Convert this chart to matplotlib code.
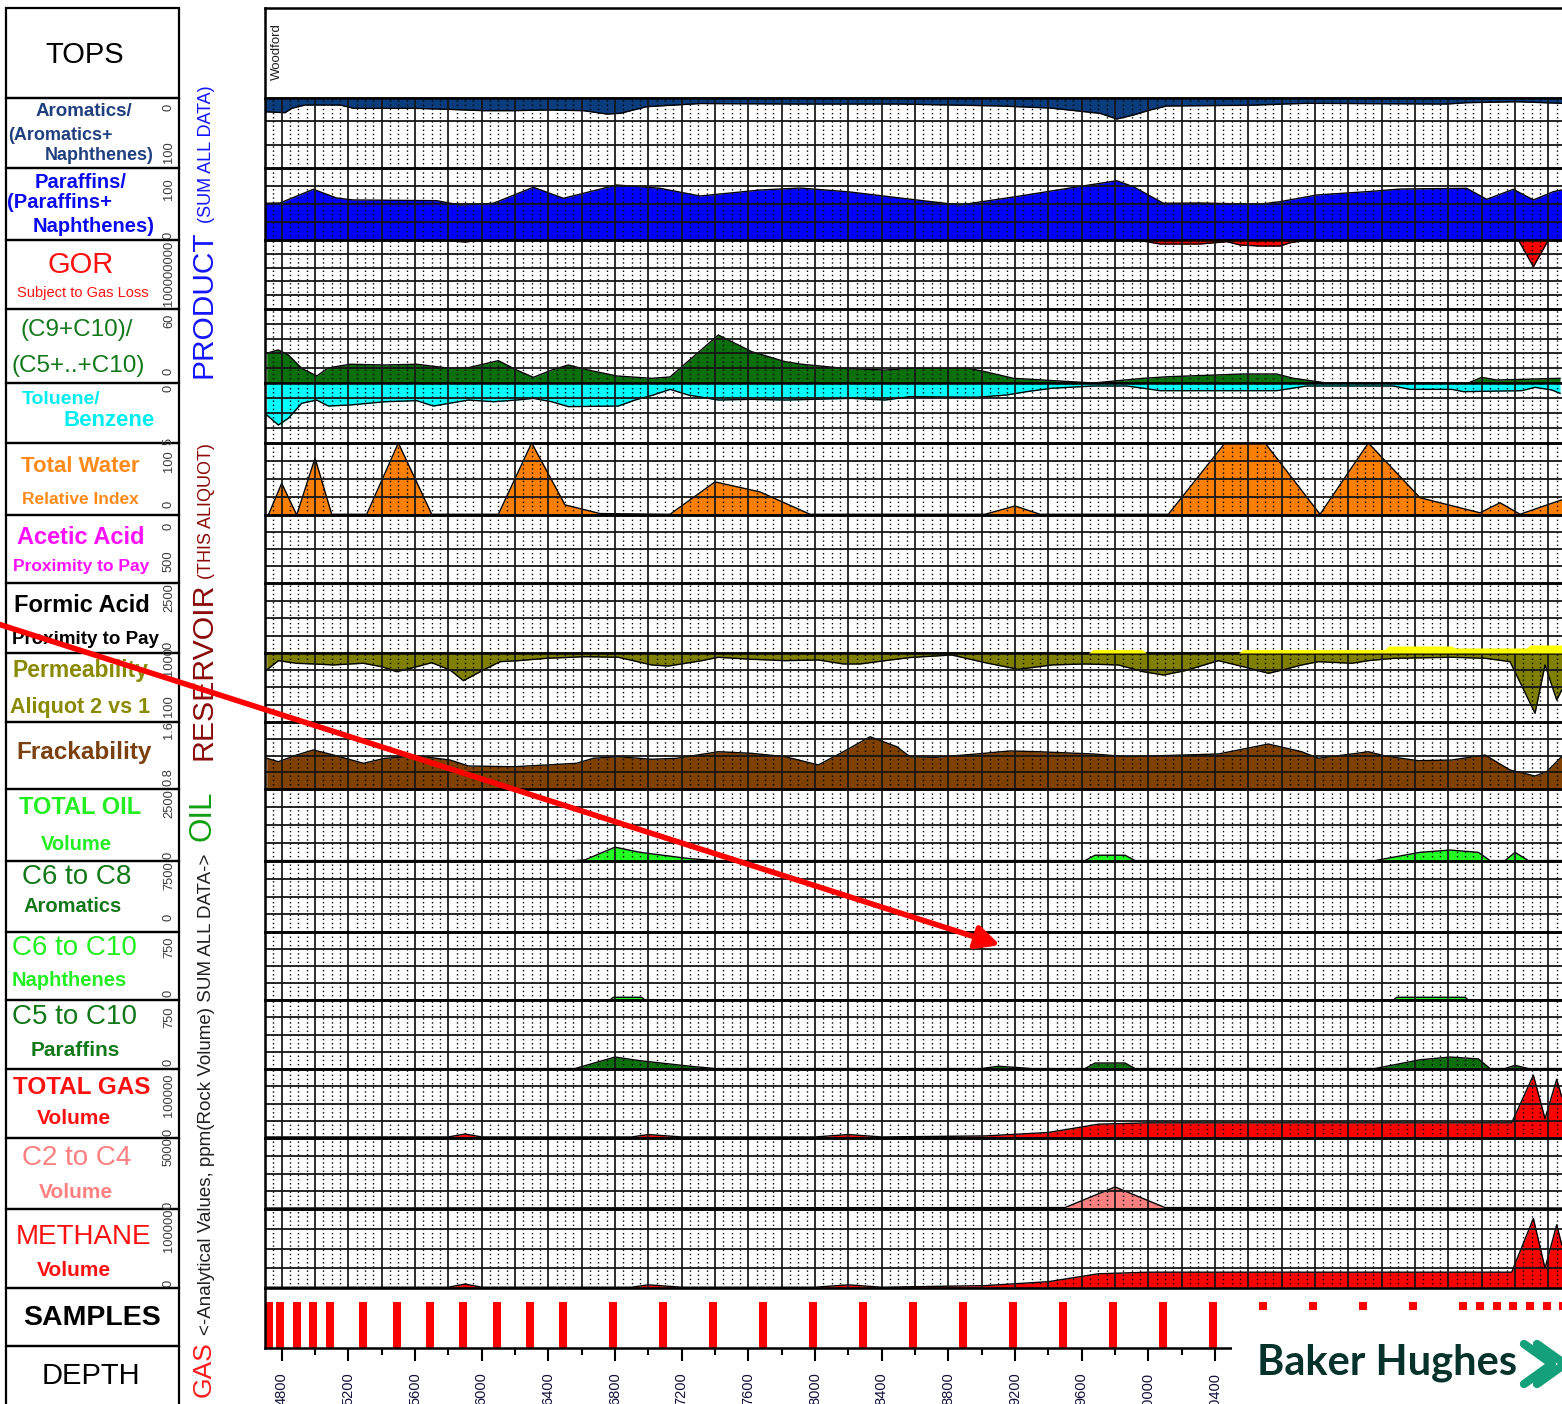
import matplotlib
matplotlib.use('Agg')
import matplotlib.pyplot as plt
from matplotlib.patches import Rectangle
import numpy as np

plt.rcParams['font.family'] = ['Liberation Sans', 'DejaVu Sans']

# ---------------- data (depth in ft, values in track units) ----------------
sample_depth = [4725, 4790, 4890, 4990, 5090, 5290, 5490, 5690, 5890, 6090, 6290, 6490,
                6790, 7090, 7390, 7690, 7990, 8290, 8590, 8890, 9190, 9490, 9790, 10090,
                10390, 10690, 10990, 11290, 11590, 11890, 11990, 12090, 12190, 12290, 12390, 12490]

aro_depth = [4700, 4820, 4860, 4940, 5150, 5230, 5590, 5790, 6010, 6190, 6390, 6610, 6750, 6830,
             6990, 7310, 7910, 8510, 9110, 9410, 9710, 9810, 9910, 10010, 10110, 10610, 10810,
             10950, 11790, 11910, 12210, 12480]
aro_val = [19.6, 21.0, 14.7, 10.0, 10.0, 14.7, 14.7, 16.1, 18.1, 18.1, 17.1, 18.1, 22.9, 21.9,
           12.4, 7.9, 8.6, 8.6, 11.4, 14.3, 21.9, 30.0, 24.3, 17.1, 11.4, 10.4, 8.6,
           7.6, 8.6, 6.7, 5.3, 7.6]

par_depth = [4700, 4790, 4990, 5130, 5230, 5730, 5870, 6070, 6310, 6490, 6810, 7070, 7310, 7670,
             7910, 8210, 8510, 8870, 9230, 9530, 9710, 9810, 9910, 10090, 10310, 10670, 10790,
             11010, 11310, 11510, 11910, 12030, 12190, 12310, 12430, 12480]
par_val = [51.0, 51.4, 70.4, 58.3, 55.6, 54.6, 48.6, 51.0, 73.2, 57.9, 76.4, 71.8, 61.1, 69.4,
           72.2, 66.7, 58.3, 48.6, 61.1, 72.2, 78.7, 82.3, 74.0, 51.0, 51.4, 49.6, 53.2,
           62.5, 67.1, 70.8, 71.8, 56.5, 70.4, 55.6, 67.1, 69.4]

gor_depth = [4700, 5750, 5900, 6000, 9930, 10070, 10310, 10470, 10550, 10670, 10790, 10850,
             10950, 12220, 12310, 12400, 12480]
gor_val = [0, 0, 2.9e6, 0, 0, 5.8e6, 5.8e6, 2.4e6, 7.2e6, 8.7e6, 8.7e6, 4.0e6,
           0, 0, 38.7e6, 0, 0]

c9_depth = [4710, 4780, 4840, 4920, 5010, 5080, 5210, 5420, 5610, 5810, 5920, 6100, 6210, 6310,
            6420, 6520, 6640, 6810, 7020, 7130, 7420, 7620, 7820, 7920, 8170, 8420, 8570, 8920,
            9020, 9190, 9370, 9670, 9970, 10120, 10570, 10770, 10870, 11070, 11920, 12000,
            12090, 12470]
c9_val = [24.1, 26.8, 22.7, 11.9, 5.7, 12.2, 15.2, 14.6, 15.2, 11.9, 12.4, 18.1, 10.5, 4.6,
          10.5, 14.6, 10.5, 5.7, 3.8, 4.9, 38.9, 25.4, 17.3, 15.2, 11.9, 10.5, 11.9, 11.9,
          9.2, 3.8, 2.4, 0.0, 3.8, 5.1, 7.3, 7.3, 3.8, 0.0, 0.0, 4.6,
          2.4, 3.8]

tol_depth = [4710, 4780, 4840, 4920, 5010, 5080, 5210, 5420, 5610, 5710, 5920, 6070, 6210, 6310,
             6420, 6520, 6820, 6920, 7030, 7130, 7240, 7420, 7620, 7820, 8220, 8420, 8570, 8970,
             9150, 9270, 9420, 9670, 9870, 9970, 10070, 10770, 10950, 11470, 11570, 11820,
             11890, 12240, 12320, 12420, 12470]
tol_val = [2.67, 3.5, 2.94, 1.69, 1.42, 1.92, 1.83, 1.56, 1.47, 1.92, 1.42, 1.56, 1.42, 1.28,
           1.56, 1.97, 1.92, 1.42, 1.0, 0.53, 1.0, 1.42, 1.36, 1.42, 1.28, 1.42, 1.14, 1.19,
           1.0, 0.72, 0.44, 0.25, 0.25, 0.44, 0.64, 0.64, 0.25, 0.25, 0.53, 0.53,
           0.72, 0.64, 0.36, 0.58, 0.86]

water_depth = [4700, 4720, 4800, 4890, 5000, 5100, 5310, 5500, 5700, 6100, 6300, 6500, 6710,
               7130, 7400, 7670, 7970, 9020, 9200, 9350, 10120, 10460, 10700, 11030, 11320,
               11630, 11990, 12110, 12230, 12480]
water_val = [1, 0, 44, 0, 79, 1, 1, 100, 1, 1, 100, 14, 2,
             1, 46, 32, 1, 1, 12.5, 1, 1, 100, 100, 1, 100,
             24, 3, 17, 1, 21]

perm_depth = [4710, 4780, 4890, 4990, 5110, 5210, 5290, 5400, 5490, 5610, 5700, 5810, 5890, 6010,
              6110, 6220, 6390, 6620, 6820, 7020, 7120, 7320, 7420, 7620, 7820, 8020, 8170,
              8270, 8420, 8570, 8820, 9020, 9220, 9420, 9620, 9820, 9970, 10090, 10220, 10420,
              10570, 10720, 10820, 10920, 11020, 11220, 11320, 11470, 11820, 12020, 12170,
              12320, 12380, 12450, 12480]
perm_val = [778, 900, 866, 857, 844, 857, 866, 821, 756, 821, 874, 778, 639, 778,
            887, 900, 931, 952, 944, 844, 830, 900, 944, 918, 900, 909, 857,
            857, 900, 941, 974, 874, 787, 844, 857, 844, 756, 713, 769, 900,
            821, 735, 787, 844, 887, 866, 900, 931, 944, 931, 887,
            214, 844, 387, 517]

perm2_depth = [9640, 9670, 9960, 9990, 10540, 10570, 11420, 11440, 11820, 11840, 12270, 12290, 12480]
perm2_val = [1000, 1046, 1046, 1000, 1000, 1046, 1046, 1091, 1091, 1065, 1065, 1104, 1104]

frack_depth = [4710, 4780, 4890, 4990, 5110, 5290, 5420, 5620, 5810, 5920, 6190, 6390, 6570,
               6670, 6820, 7020, 7170, 7420, 7620, 7820, 8020, 8170, 8330, 8490, 8570, 8720,
               8970, 9170, 9340, 9670, 9870, 10420, 10720, 10920, 11020, 11220, 11320, 11420,
               11620, 11820, 12020, 12170, 12320, 12390, 12480]
frack_val = [1.167, 1.126, 1.206, 1.266, 1.206, 1.107, 1.167, 1.194, 1.146, 1.075, 1.066, 1.087,
             1.107, 1.167, 1.186, 1.155, 1.167, 1.245, 1.226, 1.186, 1.087, 1.245, 1.424, 1.305,
             1.186, 1.178, 1.218, 1.254, 1.245, 1.218, 1.186, 1.218, 1.337, 1.245, 1.167, 1.218,
             1.245, 1.194, 1.138, 1.146, 1.206, 1.027, 0.955, 1.007, 1.186]

oil_depth = [4700, 6560, 6620, 6800, 6950, 7250, 7400, 9620, 9680, 9860, 9920, 11360, 11630,
             11810, 11980, 12050, 12140, 12200, 12280, 12480]
oil_val = [15, 15, 40, 480, 300, 80, 15, 15, 200, 200, 15, 15, 300,
           380, 300, 15, 15, 300, 15, 15]

c6c8_depth = [4700, 12480]
c6c8_val = [0, 0]

c6c10_depth = [4700, 6770, 6790, 6960, 6980, 11470, 11490, 11900, 11920, 12480]
c6c10_val = [0, 0, 30, 30, 0, 0, 30, 30, 0, 0]

c5c10_depth = [4700, 6560, 6800, 6950, 7250, 7400, 9000, 9100, 9300, 9620, 9680, 9860, 9920,
               11360, 11630, 11810, 11980, 12050, 12140, 12200, 12280, 12480]
c5c10_val = [3, 5, 130, 90, 30, 5, 5, 30, 5, 5, 65, 65, 5,
             5, 100, 130, 110, 5, 5, 40, 5, 5]

gas_depth = [4700, 5800, 5900, 6000, 6900, 7000, 7200, 8000, 8200, 8400, 9020, 9400, 9700,
             10000, 11000, 12000, 12180, 12310, 12380, 12450, 12480]
gas_val = [1500, 1500, 5800, 1500, 1500, 5000, 1500, 1500, 5000, 1500, 3000, 8000, 20000,
           22000, 22000, 22000, 22000, 91000, 28000, 85000, 60000]

c2c4_depth = [4700, 9500, 9800, 10100, 12480]
c2c4_val = [70, 100, 1550, 100, 70]

meth_depth = gas_depth
meth_val = [1000, 1000, 5000, 1000, 1000, 4000, 1000, 1000, 4000, 1000, 3000, 8000, 18000,
            20000, 20000, 20000, 20000, 88000, 25000, 80000, 55000]

depth_ticks = list(range(4800, 10401, 400))
tops_names = ['Woodford']
tops_depth = [4771]

# ---------------- layout ----------------
W, H, DPI = 1562, 1404, 100
X0, X1 = 265, 1575
XL = (4800 + (X0 - 281.7) * 6, 4800 + (X1 - 281.7) * 6)

fig = plt.figure(figsize=(W / DPI, H / DPI), dpi=DPI)
fig.patch.set_facecolor('white')

tracks = [
    ('tops', 8, 98, 1, 0, 0),
    ('aro', 98, 168, 0, 100, 3),
    ('par', 168, 240, 100, 0, 4),
    ('gor', 240, 309, 0, 1e8, 5),
    ('c9', 309, 383, 60, 0, 5),
    ('tol', 383, 443, 0, 5, 4),
    ('water', 443, 515, 100, 0, 4),
    ('acetic', 515, 583, 0, 500, 4),
    ('formic', 583, 653, 2500, 0, 4),
    ('perm', 653, 722, 1000, 100, 4),
    ('frack', 722, 789, 1.6, 0.8, 4),
    ('oil', 789, 861, 2500, 0, 4),
    ('c6c8', 861, 932, 7500, 0, 4),
    ('c6c10', 932, 1000, 750, 0, 4),
    ('c5c10', 1000, 1069, 750, 0, 4),
    ('gas', 1069, 1138, 100000, 0, 4),
    ('c2c4', 1138, 1209, 5000, 0, 4),
    ('meth', 1209, 1288, 100000, 0, 4),
    ('samples', 1288, 1348, 1, 0, 0),
]

axes = {}
for key, top, bot, tv, bv, nd in tracks:
    ax = fig.add_axes([X0 / W, 1 - bot / H, (X1 - X0) / W, (bot - top) / H])
    ax.set_xlim(XL)
    ax.set_ylim(bv, tv)
    ax.set_xticks([])
    ax.set_yticks([])
    ax.patch.set_alpha(0)
    for s in ax.spines.values():
        s.set_linewidth(1.8)
        s.set_color('black')
        s.set_zorder(5)
    ax.spines['right'].set_visible(False)
    if nd:
        for d in np.arange(4600, 12801, 50):
            if d % 200 == 0:
                ax.axvline(d, color='#151515', lw=1.25, zorder=3)
            else:
                ax.axvline(d, color='black', lw=1.0, ls=(0, (1, 2.0)), zorder=3)
        for i in range(1, nd):
            ax.axhline(bv + (tv - bv) * i / nd, color='#151515', lw=1.3, zorder=3)
    ax.set_xlim(XL)
    axes[key] = ax

fills = [
    ('aro', aro_depth, aro_val, 0, '#0b3d7e'),
    ('par', par_depth, par_val, 0, '#0000ff'),
    ('gor', gor_depth, gor_val, 0, '#ff0000'),
    ('c9', c9_depth, c9_val, 0, '#0b6f0b'),
    ('tol', tol_depth, tol_val, 0, '#00ffff'),
    ('water', water_depth, water_val, 0, '#ff8000'),
    ('perm', perm_depth, perm_val, 1000, '#808000'),
    ('frack', frack_depth, frack_val, 0.8, '#804000'),
    ('oil', oil_depth, oil_val, 0, '#22ff22'),
    ('c6c8', c6c8_depth, c6c8_val, 0, '#0b6f0b'),
    ('c6c10', c6c10_depth, c6c10_val, 0, '#22ff22'),
    ('c5c10', c5c10_depth, c5c10_val, 0, '#0b6f0b'),
    ('gas', gas_depth, gas_val, 0, '#ff0000'),
    ('c2c4', c2c4_depth, c2c4_val, 0, '#ff8080'),
    ('meth', meth_depth, meth_val, 0, '#ff0000'),
]
for key, dd, vv, base, col in fills:
    ax = axes[key]
    ax.fill_between(dd, base, vv, color=col, lw=0, zorder=1)
    ax.plot(dd, vv, color='black', lw=1.0, zorder=1.5)

axp = axes['perm']
axp.fill_between(perm2_depth, 1000, perm2_val, color='#ffff00', lw=0, zorder=6, clip_on=False)

# tops
for nm, dp in zip(tops_names, tops_depth):
    axes['tops'].text(dp, 0.52, nm, rotation=90, ha='center', va='center', fontsize=9.5,
                      color='#202020')

# samples + depth axis
axs = axes['samples']
axs.bar(sample_depth, 0.77, width=48, bottom=0, color='#ff0000', zorder=2)
axs.set_xticks(depth_ticks)
axs.set_xticks([d for d in range(4800, 12401, 200) if d not in depth_ticks], minor=True)
axs.set_xticklabels([str(t) for t in depth_ticks], rotation=90, fontsize=10.5, color='#10103a')
axs.tick_params(axis='x', which='major', direction='out', length=9.5, width=1.5, pad=8)
axs.tick_params(axis='x', which='minor', direction='out', length=5, width=1.5)
axs.spines['top'].set_linewidth(1.0)
axs.set_xlim(XL)

# ---------------- overlay in pixel coordinates ----------------
ov = fig.add_axes([0, 0, 1, 1])
ov.set_xlim(0, W)
ov.set_ylim(H, 0)
ov.axis('off')
ov.patch.set_alpha(0)

boxes = [(8, 98), (98, 168), (168, 240), (240, 309), (309, 383), (383, 443), (443, 515),
         (515, 583), (583, 653), (653, 722), (722, 789), (789, 861), (861, 932), (932, 1000),
         (1000, 1069), (1069, 1138), (1138, 1209), (1209, 1288), (1288, 1346), (1346, 1420)]
for t, b in boxes:
    ov.add_patch(Rectangle((6, t), 173, b - t, fill=False, ec='black', lw=1.6, clip_on=False))

labels = [
    ('TOPS', 85, 55, 21, 'normal', 'black'),
    ('Aromatics/', 84, 112, 13.5, 'bold', '#1f3f7f'),
    ('(Aromatics+', 60, 135, 13, 'bold', '#1f3f7f'),
    ('Naphthenes)', 99, 156, 13, 'bold', '#1f3f7f'),
    ('Paraffins/', 81, 182, 14.5, 'bold', '#0a0af0'),
    ('(Paraffins+', 59, 203, 14.5, 'bold', '#0a0af0'),
    ('Naphthenes)', 94, 226, 14.5, 'bold', '#0a0af0'),
    ('GOR', 81, 265, 21, 'normal', '#ff1010'),
    ('Subject to Gas Loss', 83, 293, 10.5, 'normal', '#ff1010'),
    ('(C9+C10)/', 77, 330, 17.5, 'normal', '#13781a'),
    ('(C5+..+C10)', 78, 366, 17.5, 'normal', '#13781a'),
    ('Toluene/', 61, 399, 14, 'bold', '#00eef0'),
    ('Benzene', 109, 421, 16, 'bold', '#00eef0'),
    ('Total Water', 80, 467, 16, 'bold', '#ff8a1a'),
    ('Relative Index', 80, 499, 12.5, 'bold', '#ff8a1a'),
    ('Acetic Acid', 81, 537, 17, 'bold', '#ff10ff'),
    ('Proximity to Pay', 81, 566, 12.5, 'bold', '#ff10ff'),
    ('Formic Acid', 82, 605, 17, 'bold', 'black'),
    ('Proximity to Pay', 85, 640, 13.5, 'bold', 'black'),
    ('Permeability', 80, 671, 16.5, 'bold', '#8a8a00'),
    ('Aliquot 2 vs 1', 80, 707, 15.5, 'bold', '#8a8a00'),
    ('Frackability', 84, 752, 17.5, 'bold', '#7a4010'),
    ('TOTAL OIL', 80, 808, 17, 'bold', '#22ee22'),
    ('Volume', 76, 844, 14.5, 'bold', '#22ee22'),
    ('C6 to C8', 77, 877, 20, 'normal', '#13781a'),
    ('Aromatics', 73, 907, 14.5, 'bold', '#13781a'),
    ('C6 to C10', 74, 948, 20, 'normal', '#22ee22'),
    ('Naphthenes', 69, 980, 14.5, 'bold', '#22ee22'),
    ('C5 to C10', 74, 1017, 20, 'normal', '#13781a'),
    ('Paraffins', 75, 1050, 15, 'bold', '#13781a'),
    ('TOTAL GAS', 82, 1087, 17.5, 'bold', '#ff1010'),
    ('Volume', 74, 1119, 15, 'bold', '#ff1010'),
    ('C2 to C4', 77, 1158, 20, 'normal', '#ff8080'),
    ('Volume', 76, 1193, 15, 'bold', '#ff8080'),
    ('METHANE', 83, 1237, 20, 'normal', '#ff1010'),
    ('Volume', 74, 1271, 15, 'bold', '#ff1010'),
    ('SAMPLES', 92, 1318, 20.5, 'bold', 'black'),
    ('DEPTH', 91, 1376, 21, 'normal', 'black'),
]
for txt, x, y, fs, fw, col in labels:
    ov.text(x, y, txt, ha='center', va='center', fontsize=fs, fontweight=fw, color=col)

scale_labels = [
    ('0', 107), ('100', 152), ('100', 189), ('0', 235), ('100000000', 273),
    ('60', 321), ('0', 371), ('0', 388), ('5', 441), ('100', 461), ('0', 504),
    ('0', 526), ('500', 561), ('2500', 598), ('0', 645), ('1000', 662), ('100', 706),
    ('1.6', 730), ('0.8', 777), ('2500', 804), ('0', 855), ('7500', 876), ('0', 917),
    ('750', 947), ('0', 993), ('750', 1017), ('0', 1062), ('100000', 1095), ('0', 1132),
    ('5000', 1152), ('0', 1205), ('100000', 1230), ('0', 1283),
]
for txt, y in scale_labels:
    ov.text(169, y, txt, rotation=90, ha='center', va='center', fontsize=9.3, color='#3a3a3a')

# vertical group titles (baseline on the right at x=211)
vt = [
    ('PRODUCT', 378, 21.5, '#1414ff'),
    ('(SUM ALL DATA)', 223, 13, '#1414ff'),
    ('RESERVOIR', 760, 21.8, '#8b0a0a'),
    ('(THIS ALIQUOT)', 579, 13, '#8b0a0a'),
    ('GAS', 1397, 19, '#ff1a1a'),
    ('<-Analytical Values, ppm(Rock Volume) SUM ALL DATA->', 1335, 13.5, '#202020'),
    ('OIL', 841, 22.5, '#10a010'),
]
for txt, y, fs, col in vt:
    ov.text(211, y, txt, rotation=90, rotation_mode='anchor', ha='left', va='baseline',
            fontsize=fs, color=col)

# red annotation arrow
ov.annotate('', xy=(1000, 945), xytext=(-5, 623),
            arrowprops=dict(arrowstyle='-|>', color='#ff0000', lw=4, mutation_scale=35,
                            shrinkA=0, shrinkB=0))

# logo block
ov.add_patch(Rectangle((1232, 1310), 340, 100, fc='white', ec='none', zorder=10))
ov.text(1257, 1363, 'Baker Hughes', ha='left', va='center', fontsize=30, fontweight='bold',
        color='#05322b', family=['Lato', 'DejaVu Sans'], zorder=11)
for dx in (0, 13):
    ov.plot([1524 + dx, 1552 + dx, 1524 + dx], [1344, 1364, 1384], color='#14a07a', lw=6,
            solid_capstyle='round', solid_joinstyle='round', zorder=11)

fig.savefig('out.png', dpi=DPI, facecolor='white')
